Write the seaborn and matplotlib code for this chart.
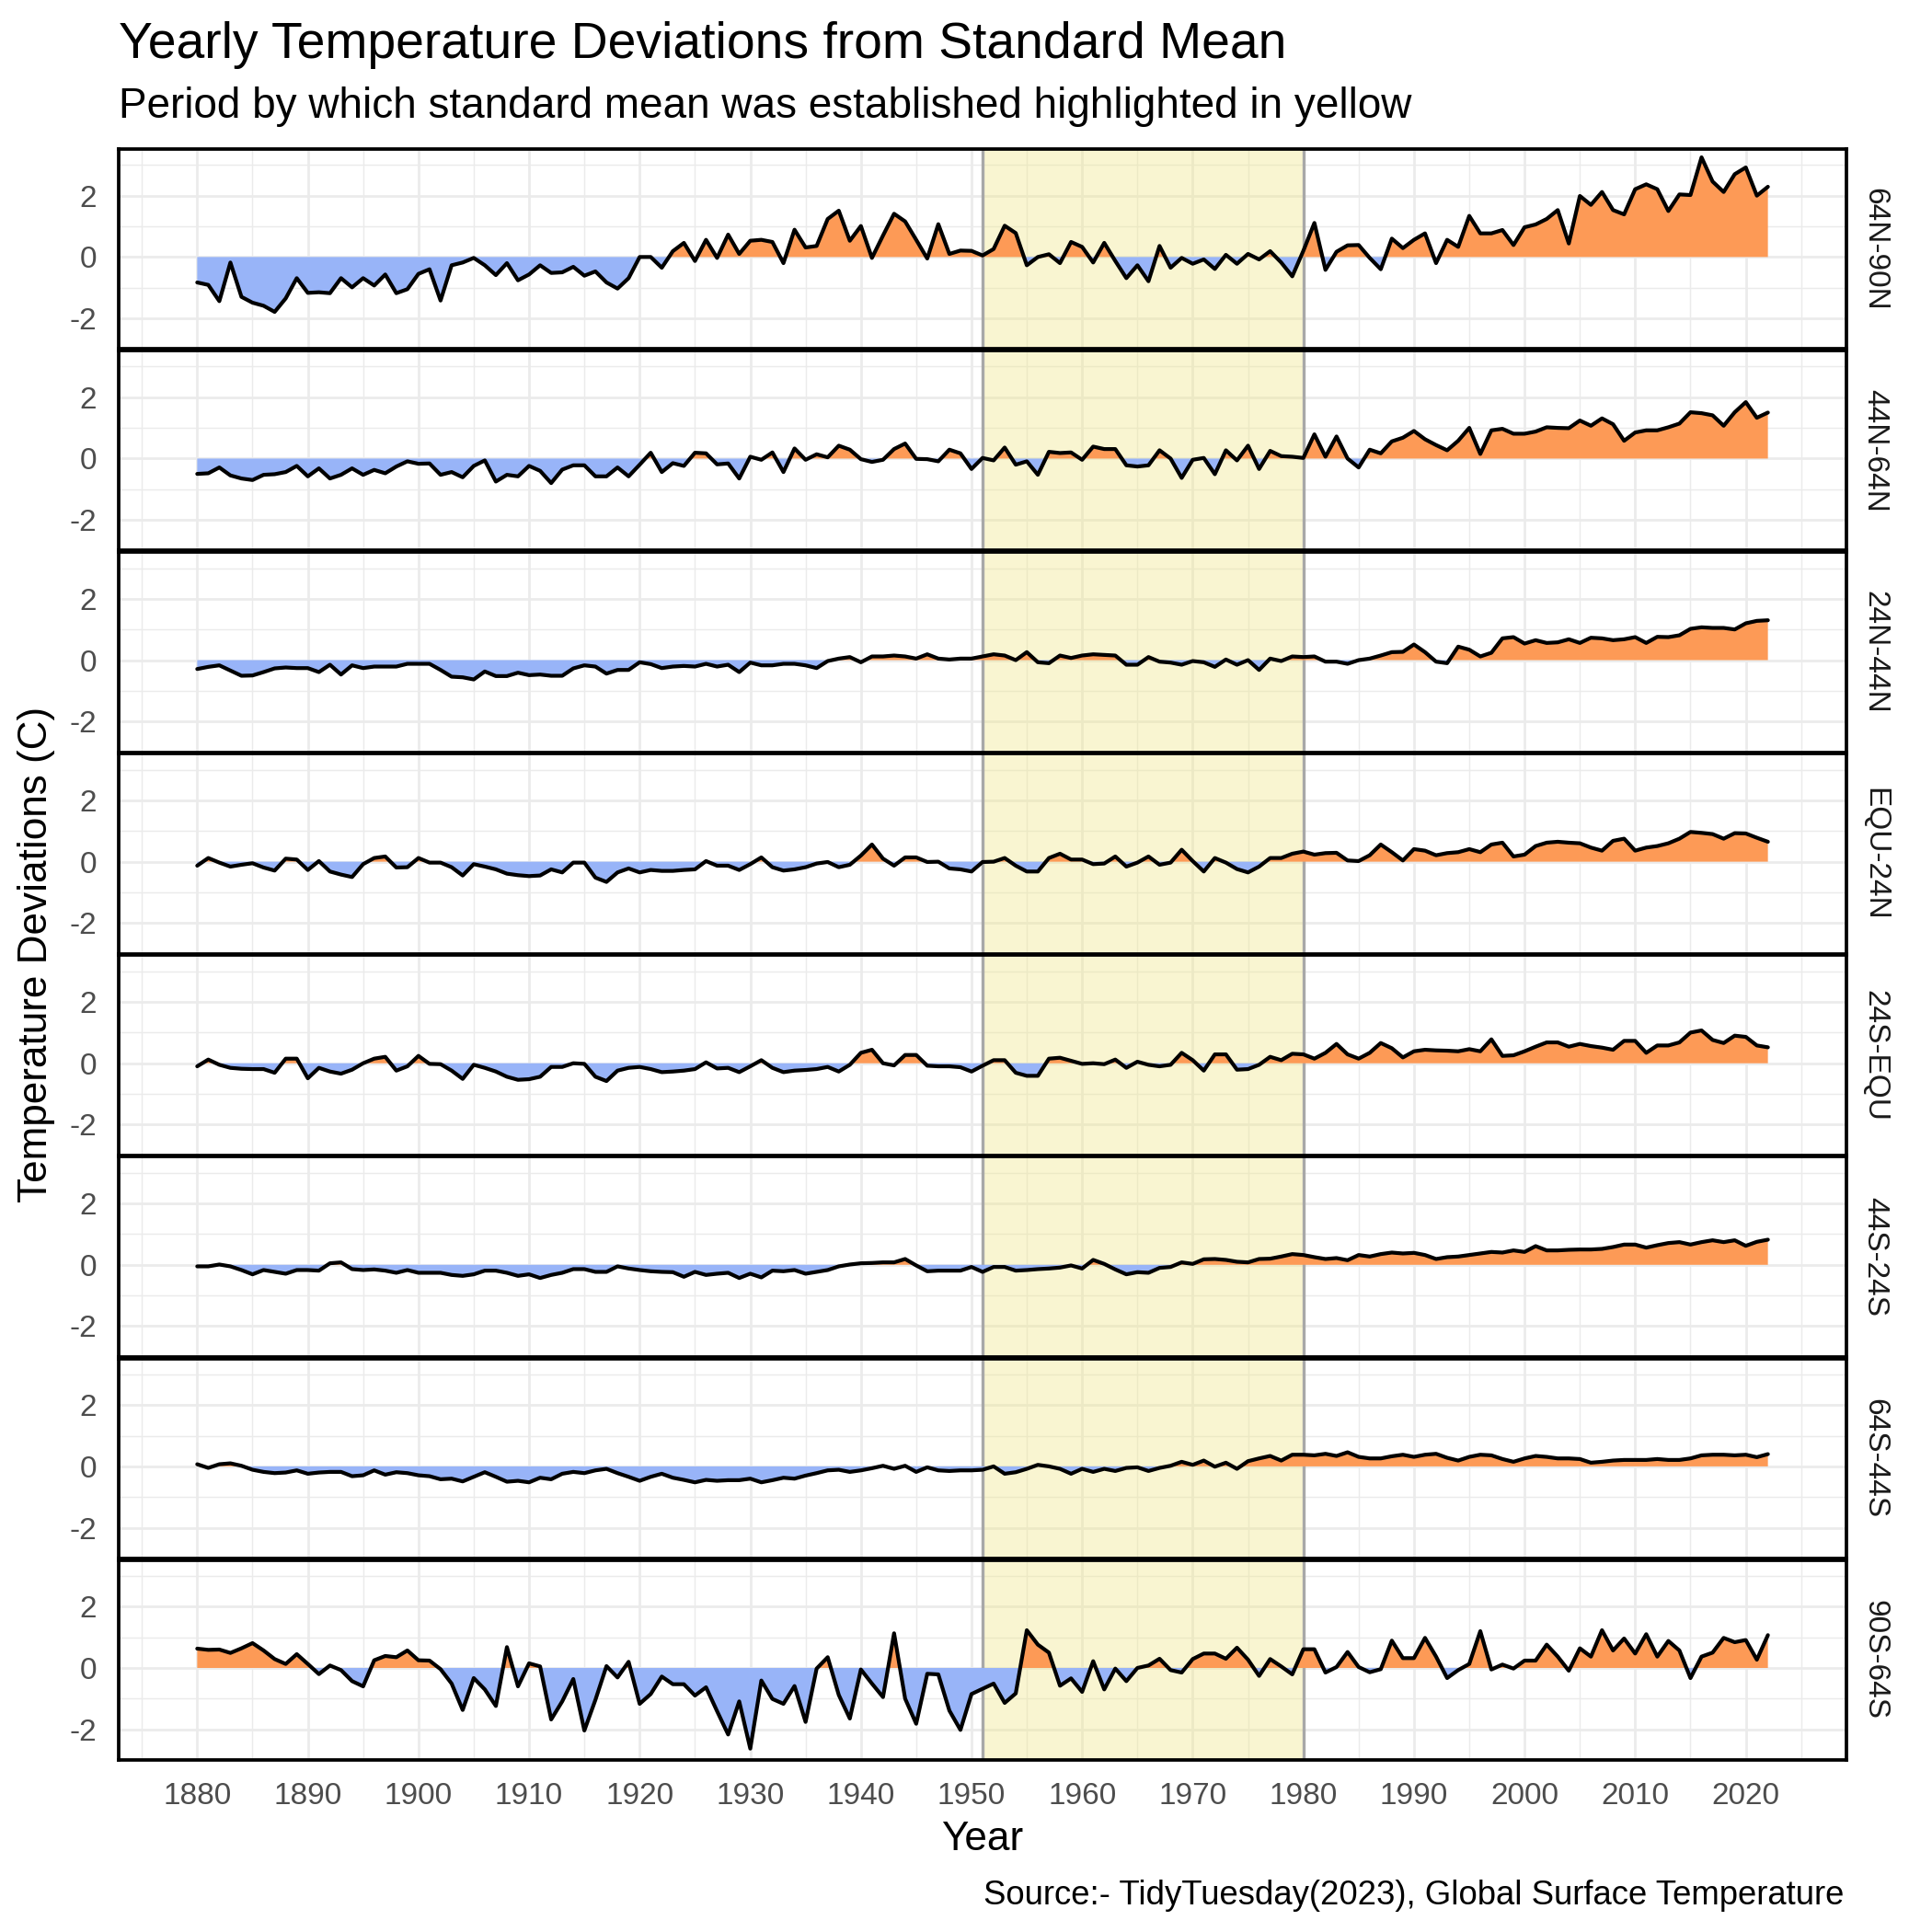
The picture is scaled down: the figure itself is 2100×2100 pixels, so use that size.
import numpy as np
import pandas as pd
import matplotlib
matplotlib.use("Agg")
import matplotlib.pyplot as plt
import seaborn as sns

# ---------------- data ----------------
years = list(range(1880, 2023))
regions = ["64N-90N", "44N-64N", "24N-44N", "EQU-24N",
           "24S-EQU", "44S-24S", "64S-44S", "90S-64S"]

dev_64n_90n = [
    -0.83, -0.91, -1.44, -0.18, -1.30, -1.49, -1.59, -1.79, -1.35, -0.69,
    -1.17, -1.15, -1.18, -0.69, -0.99, -0.69, -0.93, -0.57, -1.18, -1.05,
    -0.55, -0.40, -1.42, -0.27, -0.18, -0.03, -0.27, -0.59, -0.20, -0.76,
    -0.57, -0.27, -0.52, -0.50, -0.32, -0.61, -0.47, -0.83, -1.03, -0.69,
    0.00, 0.00, -0.35, 0.19, 0.46, -0.13, 0.56, -0.03, 0.73, 0.10,
    0.53, 0.56, 0.49, -0.20, 0.89, 0.31, 0.36, 1.24, 1.51, 0.53,
    1.01, -0.03, 0.70, 1.41, 1.16, 0.56, -0.05, 1.07, 0.10, 0.21,
    0.20, 0.05, 0.26, 1.02, 0.78, -0.27, 0.00, 0.09, -0.20, 0.49,
    0.33, -0.18, 0.46, -0.13, -0.69, -0.27, -0.79, 0.36, -0.35, -0.03,
    -0.22, -0.08, -0.39, 0.07, -0.22, 0.10, -0.08, 0.19, -0.18, -0.63,
    0.20, 1.11, -0.42, 0.17, 0.38, 0.39, -0.03, -0.40, 0.60, 0.29,
    0.56, 0.77, -0.20, 0.56, 0.33, 1.34, 0.77, 0.77, 0.88, 0.39,
    0.97, 1.06, 1.24, 1.53, 0.44, 1.99, 1.70, 2.12, 1.53, 1.39,
    2.21, 2.37, 2.21, 1.50, 2.04, 2.02, 3.25, 2.46, 2.12, 2.70,
    2.92, 2.00, 2.29]

dev_44n_64n = [
    -0.50, -0.48, -0.29, -0.55, -0.65, -0.70, -0.53, -0.51, -0.44, -0.24,
    -0.58, -0.32, -0.65, -0.53, -0.32, -0.53, -0.37, -0.48, -0.26, -0.09,
    -0.17, -0.16, -0.53, -0.44, -0.61, -0.24, -0.06, -0.75, -0.53, -0.58,
    -0.24, -0.40, -0.80, -0.36, -0.22, -0.22, -0.58, -0.58, -0.29, -0.58,
    -0.20, 0.19, -0.44, -0.15, -0.24, 0.19, 0.17, -0.19, -0.16, -0.65,
    0.06, -0.04, 0.20, -0.44, 0.33, -0.04, 0.14, 0.04, 0.42, 0.29,
    -0.02, -0.11, -0.04, 0.31, 0.49, -0.01, -0.02, -0.09, 0.29, 0.17,
    -0.34, 0.02, -0.06, 0.36, -0.20, -0.09, -0.53, 0.22, 0.18, 0.20,
    -0.04, 0.39, 0.31, 0.31, -0.22, -0.26, -0.22, 0.27, 0.00, -0.63,
    -0.04, 0.02, -0.51, 0.27, -0.06, 0.42, -0.34, 0.25, 0.08, 0.06,
    0.02, 0.79, 0.06, 0.72, 0.00, -0.29, 0.29, 0.17, 0.56, 0.68,
    0.90, 0.63, 0.44, 0.27, 0.58, 1.00, 0.15, 0.92, 0.97, 0.81,
    0.81, 0.88, 1.02, 1.00, 0.99, 1.24, 1.07, 1.31, 1.12, 0.58,
    0.85, 0.92, 0.92, 1.02, 1.14, 1.51, 1.48, 1.41, 1.07, 1.51,
    1.84, 1.33, 1.50]

dev_24n_44n = [
    -0.29, -0.22, -0.17, -0.34, -0.51, -0.50, -0.39, -0.27, -0.24, -0.26,
    -0.26, -0.39, -0.15, -0.47, -0.17, -0.26, -0.21, -0.21, -0.21, -0.12,
    -0.12, -0.12, -0.32, -0.54, -0.56, -0.63, -0.37, -0.52, -0.52, -0.41,
    -0.49, -0.47, -0.51, -0.51, -0.27, -0.17, -0.21, -0.44, -0.32, -0.32,
    -0.07, -0.13, -0.26, -0.21, -0.19, -0.21, -0.12, -0.21, -0.15, -0.39,
    -0.08, -0.17, -0.17, -0.12, -0.12, -0.17, -0.26, -0.03, 0.05, 0.10,
    -0.07, 0.12, 0.12, 0.15, 0.12, 0.05, 0.19, 0.05, 0.02, 0.05,
    0.05, 0.12, 0.19, 0.15, 0.00, 0.26, -0.07, -0.10, 0.15, 0.07,
    0.15, 0.19, 0.17, 0.15, -0.15, -0.15, 0.10, -0.05, -0.08, -0.15,
    -0.03, -0.07, -0.22, 0.02, -0.15, 0.00, -0.32, 0.05, -0.03, 0.12,
    0.10, 0.12, -0.05, -0.05, -0.12, 0.00, 0.05, 0.15, 0.26, 0.27,
    0.51, 0.26, -0.05, -0.10, 0.44, 0.34, 0.12, 0.24, 0.71, 0.75,
    0.54, 0.65, 0.56, 0.58, 0.68, 0.56, 0.73, 0.71, 0.65, 0.68,
    0.75, 0.56, 0.76, 0.75, 0.81, 1.02, 1.07, 1.05, 1.05, 1.00,
    1.20, 1.28, 1.30]

dev_equ_24n = [
    -0.13, 0.12, -0.03, -0.16, -0.10, -0.05, -0.19, -0.29, 0.10, 0.07,
    -0.27, 0.02, -0.32, -0.42, -0.50, -0.08, 0.12, 0.17, -0.19, -0.18,
    0.12, -0.03, -0.03, -0.18, -0.45, -0.08, -0.16, -0.25, -0.39, -0.44,
    -0.47, -0.45, -0.25, -0.35, -0.03, -0.03, -0.52, -0.66, -0.35, -0.22,
    -0.35, -0.27, -0.30, -0.30, -0.27, -0.25, 0.02, -0.13, -0.13, -0.27,
    -0.08, 0.14, -0.18, -0.29, -0.25, -0.18, -0.06, -0.01, -0.18, -0.10,
    0.20, 0.56, 0.10, -0.13, 0.14, 0.14, -0.01, 0.00, -0.22, -0.25,
    -0.32, -0.01, 0.00, 0.12, -0.13, -0.32, -0.32, 0.12, 0.26, 0.07,
    0.07, -0.08, -0.06, 0.17, -0.16, -0.03, 0.17, -0.10, -0.03, 0.39,
    0.02, -0.32, 0.12, -0.03, -0.24, -0.35, -0.16, 0.12, 0.12, 0.26,
    0.33, 0.23, 0.28, 0.29, 0.04, 0.02, 0.21, 0.56, 0.31, 0.04,
    0.41, 0.36, 0.21, 0.28, 0.31, 0.41, 0.31, 0.56, 0.62, 0.17,
    0.23, 0.51, 0.62, 0.65, 0.62, 0.60, 0.46, 0.36, 0.68, 0.75,
    0.36, 0.46, 0.51, 0.60, 0.75, 0.97, 0.94, 0.90, 0.75, 0.93,
    0.92, 0.78, 0.65]

dev_24s_equ = [
    -0.10, 0.12, -0.05, -0.15, -0.18, -0.19, -0.19, -0.31, 0.15, 0.15,
    -0.49, -0.15, -0.27, -0.34, -0.21, 0.00, 0.15, 0.21, -0.24, -0.10,
    0.24, -0.02, -0.03, -0.24, -0.51, -0.05, -0.15, -0.27, -0.44, -0.54,
    -0.52, -0.44, -0.12, -0.12, 0.00, -0.02, -0.44, -0.58, -0.24, -0.15,
    -0.12, -0.19, -0.29, -0.27, -0.24, -0.19, 0.03, -0.17, -0.15, -0.29,
    -0.10, 0.10, -0.15, -0.29, -0.24, -0.22, -0.19, -0.12, -0.27, -0.05,
    0.34, 0.44, 0.00, -0.07, 0.27, 0.27, -0.08, -0.10, -0.10, -0.13,
    -0.27, -0.08, 0.10, 0.10, -0.31, -0.41, -0.41, 0.15, 0.18, 0.08,
    -0.02, 0.00, -0.03, 0.12, -0.15, 0.05, -0.05, -0.10, -0.05, 0.34,
    0.10, -0.24, 0.29, 0.29, -0.21, -0.19, -0.05, 0.21, 0.10, 0.31,
    0.29, 0.15, 0.34, 0.63, 0.29, 0.15, 0.34, 0.66, 0.49, 0.19,
    0.39, 0.44, 0.42, 0.41, 0.39, 0.46, 0.39, 0.78, 0.24, 0.26,
    0.39, 0.54, 0.68, 0.68, 0.54, 0.63, 0.56, 0.51, 0.44, 0.73,
    0.73, 0.34, 0.58, 0.58, 0.68, 1.00, 1.07, 0.76, 0.66, 0.90,
    0.86, 0.58, 0.52]

dev_44s_24s = [
    -0.05, -0.05, 0.01, -0.05, -0.17, -0.31, -0.17, -0.23, -0.29, -0.17,
    -0.17, -0.19, 0.05, 0.08, -0.14, -0.17, -0.15, -0.19, -0.26, -0.17,
    -0.26, -0.26, -0.26, -0.33, -0.36, -0.31, -0.19, -0.19, -0.26, -0.36,
    -0.31, -0.43, -0.33, -0.26, -0.14, -0.14, -0.23, -0.23, -0.05, -0.12,
    -0.17, -0.21, -0.23, -0.24, -0.39, -0.23, -0.33, -0.29, -0.26, -0.43,
    -0.29, -0.41, -0.19, -0.21, -0.17, -0.29, -0.23, -0.17, -0.05, 0.01,
    0.05, 0.06, 0.08, 0.08, 0.19, -0.02, -0.21, -0.19, -0.19, -0.19,
    -0.07, -0.23, -0.07, -0.07, -0.19, -0.17, -0.14, -0.12, -0.09, -0.02,
    -0.12, 0.16, 0.03, -0.15, -0.31, -0.24, -0.26, -0.10, -0.07, 0.08,
    0.03, 0.18, 0.19, 0.16, 0.10, 0.08, 0.19, 0.20, 0.27, 0.35,
    0.32, 0.25, 0.19, 0.22, 0.15, 0.32, 0.27, 0.35, 0.40, 0.37,
    0.39, 0.32, 0.19, 0.25, 0.27, 0.32, 0.37, 0.42, 0.40, 0.47,
    0.42, 0.61, 0.47, 0.47, 0.49, 0.50, 0.50, 0.52, 0.58, 0.66,
    0.66, 0.56, 0.64, 0.71, 0.74, 0.66, 0.74, 0.80, 0.74, 0.80,
    0.62, 0.75, 0.82]

dev_64s_44s = [
    0.07, -0.05, 0.07, 0.10, 0.02, -0.11, -0.18, -0.22, -0.20, -0.13,
    -0.24, -0.20, -0.18, -0.18, -0.32, -0.29, -0.13, -0.27, -0.19, -0.22,
    -0.29, -0.32, -0.42, -0.40, -0.49, -0.34, -0.19, -0.34, -0.50, -0.47,
    -0.52, -0.37, -0.42, -0.24, -0.18, -0.22, -0.13, -0.08, -0.22, -0.34,
    -0.47, -0.34, -0.24, -0.37, -0.44, -0.52, -0.44, -0.47, -0.45, -0.45,
    -0.40, -0.52, -0.45, -0.37, -0.40, -0.30, -0.22, -0.13, -0.11, -0.18,
    -0.13, -0.06, 0.02, -0.08, 0.02, -0.18, -0.03, -0.13, -0.15, -0.13,
    -0.13, -0.11, 0.00, -0.24, -0.19, -0.08, 0.05, 0.00, -0.08, -0.24,
    -0.08, -0.18, -0.08, -0.15, -0.05, -0.03, -0.15, -0.05, 0.02, 0.15,
    0.05, 0.19, -0.01, 0.12, -0.08, 0.17, 0.26, 0.34, 0.19, 0.38,
    0.38, 0.36, 0.41, 0.34, 0.46, 0.31, 0.26, 0.26, 0.33, 0.38,
    0.31, 0.38, 0.41, 0.28, 0.19, 0.31, 0.38, 0.36, 0.24, 0.15,
    0.26, 0.34, 0.31, 0.26, 0.26, 0.24, 0.12, 0.15, 0.19, 0.21,
    0.21, 0.21, 0.24, 0.21, 0.21, 0.26, 0.36, 0.38, 0.38, 0.36,
    0.38, 0.30, 0.40]

dev_90s_64s = [
    0.63, 0.59, 0.60, 0.49, 0.64, 0.81, 0.57, 0.29, 0.13, 0.45,
    0.13, -0.20, 0.08, -0.07, -0.43, -0.60, 0.25, 0.39, 0.35, 0.57,
    0.25, 0.24, -0.04, -0.51, -1.37, -0.33, -0.70, -1.24, 0.68, -0.60,
    0.15, 0.05, -1.68, -1.09, -0.36, -2.04, -1.04, 0.06, -0.31, 0.20,
    -1.17, -0.85, -0.28, -0.53, -0.53, -0.90, -0.63, -1.41, -2.17, -1.09,
    -2.63, -0.41, -1.01, -1.17, -0.59, -1.76, -0.02, 0.35, -0.88, -1.65,
    -0.05, -0.51, -0.95, 1.13, -1.00, -1.82, -0.19, -0.21, -1.39, -2.02,
    -0.85, -0.68, -0.51, -1.14, -0.83, 1.23, 0.76, 0.50, -0.58, -0.34,
    -0.78, 0.22, -0.70, -0.02, -0.43, 0.00, 0.08, 0.30, -0.07, -0.15,
    0.29, 0.47, 0.47, 0.30, 0.66, 0.27, -0.26, 0.29, 0.05, -0.21,
    0.61, 0.61, -0.15, 0.03, 0.52, 0.03, -0.14, -0.04, 0.89, 0.32,
    0.32, 0.98, 0.37, -0.33, -0.07, 0.13, 1.20, -0.05, 0.11, -0.02,
    0.24, 0.24, 0.76, 0.37, -0.09, 0.64, 0.37, 1.23, 0.57, 0.96,
    0.47, 1.10, 0.37, 0.88, 0.57, -0.33, 0.37, 0.50, 0.98, 0.84,
    0.91, 0.27, 1.07]

series = [dev_64n_90n, dev_44n_64n, dev_24n_44n, dev_equ_24n,
          dev_24s_equ, dev_44s_24s, dev_64s_44s, dev_90s_64s]

x_breaks = list(range(1880, 2021, 10))
y_breaks = [-2, 0, 2]
baseline_start, baseline_end = 1951, 1980

title = "Yearly Temperature Deviations from Standard Mean"
subtitle = "Period by which standard mean was established highlighted in yellow"
x_title = "Year"
y_title = "Temperature Deviations (C)"
caption = "Source:- TidyTuesday(2023), Global Surface Temperature"

df = pd.DataFrame({
    "Year": years * len(regions),
    "Region": [r for r in regions for _ in years],
    "Deviation": [v for s in series for v in s],
})

# ---------------- style ----------------
sns.set_theme(style="white")
plt.rcParams["font.family"] = ["Liberation Sans", "DejaVu Sans"]
plt.rcParams["axes.unicode_minus"] = False

BLUE = "#98B4F8"
ORANGE = "#FD9A56"
GRID = "#EBEBEB"
TICKC = "#4D4D4D"

W = H = 2100
fig, axes = plt.subplots(len(regions), 1, figsize=(7, 7), dpi=300, sharex=True)
fig.subplots_adjust(left=129 / W, right=2007 / W, top=1 - 162 / H,
                    bottom=1 - 1913 / H, hspace=0.008)

for ax, region in zip(axes, regions):
    sub = df[df["Region"] == region]
    x = sub["Year"].to_numpy()
    y = sub["Deviation"].to_numpy()

    ax.set_axisbelow(True)
    ax.set_xlim(1872.9, 2029.1)
    ax.set_ylim(-2.88, 3.52)
    ax.set_xticks(x_breaks)
    ax.set_xticks([b for b in range(1875, 2030, 5) if b % 10 != 0], minor=True)
    ax.set_yticks(y_breaks)
    ax.set_yticks([-3, -1, 1, 3], minor=True)
    ax.grid(which="major", color=GRID, linewidth=0.65)
    ax.grid(which="minor", color=GRID, linewidth=0.35)

    ax.axvspan(baseline_start, baseline_end, facecolor="#F0E68C", alpha=0.4,
               linewidth=0, zorder=1)
    for b in (baseline_start, baseline_end):
        ax.axvline(b, color="#A8A8A8", linewidth=0.8, zorder=1.2)

    ax.fill_between(x, y, 0, where=y >= 0, interpolate=True,
                    facecolor=ORANGE, linewidth=0, zorder=2)
    ax.fill_between(x, y, 0, where=y <= 0, interpolate=True,
                    facecolor=BLUE, linewidth=0, zorder=2)
    sns.lineplot(data=sub, x="Year", y="Deviation", ax=ax, color="black",
                 linewidth=1.0, zorder=3, legend=False)

    ax.set_xlabel("")
    ax.set_ylabel("")
    ax.tick_params(which="both", length=0, pad=5.8, labelsize=8,
                   labelcolor=TICKC)
    for s in ax.spines.values():
        s.set_visible(True)
        s.set_color("black")
        s.set_linewidth(0.9)
        s.set_zorder(5)

    ax.text(1.0165, 0.5, region, transform=ax.transAxes, rotation=270,
            ha="center", va="center", rotation_mode="anchor",
            fontsize=8, color="#1A1A1A")

axes[-1].set_xticklabels([str(b) for b in x_breaks])

fig.text(129 / W, 1 - 63 / H, title, fontsize=13.25, ha="left", va="baseline",
         color="black")
fig.text(129 / W, 1 - 128 / H, subtitle, fontsize=11, ha="left",
         va="baseline", color="black")
fig.text(1068 / W, 1 - 2011 / H, x_title, fontsize=10.6, ha="center",
         va="baseline", color="black")
fig.text(40 / W, 1 - 1037 / H, y_title, fontsize=10.6, ha="center",
         va="center", rotation=90, color="black")
fig.text(2004 / W, 1 - 2070 / H, caption, fontsize=8.75, ha="right",
         va="baseline", color="black")

fig.savefig("out.png", dpi=300, facecolor="white")
